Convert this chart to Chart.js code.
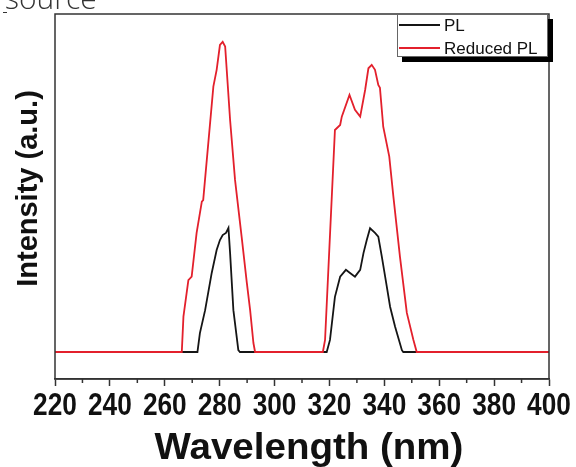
<!DOCTYPE html>
<html>
<head>
<meta charset="utf-8">
<script src="https://cdn.jsdelivr.net/npm/chart.js@4"></script>
<style>
  html, body { margin: 0; padding: 0; background: #fff; }
  #wrap { width: 576px; height: 467px; position: relative; }
</style>
</head>
<body>
<div id="wrap"><canvas id="chart" width="576" height="467"></canvas></div>
<script>
// data (wavelength in nm, intensity in arbitrary units)
const plWavelength = [220, 271.9, 272.8, 274.7, 277.1, 278.9, 280.1, 281.1, 282.3, 283.2, 283.8, 285.0, 286.8, 287.4,
  319.0, 320.2, 322.0, 323.9, 326.0, 327.5, 329.3, 331.2, 332.4, 333.6, 334.8, 336.6, 337.8, 339.1, 340.9, 342.1, 343.9, 346.4, 346.9, 400];
const plIntensity = [0, 0, 6.1, 13.5, 25.5, 32.9, 36.1, 37.7, 38.4, 40.0, 31.9, 13.5, 0.6, 0,
  0, 3.9, 17.8, 24.3, 26.5, 25.5, 24.3, 26.5, 31.9, 36.1, 39.9, 38.4, 37.2, 30.7, 21.1, 14.6, 8.2, 0.6, 0, 0];

const reducedWavelength = [220, 266.2, 266.8, 268.6, 269.8, 271.6, 273.5, 274.0, 277.7, 278.9, 280.1, 281.1, 282.0, 283.8, 285.6, 288.0, 289.9, 291.1, 292.3, 292.9,
  317.6, 318.4, 322.0, 323.9, 324.5, 327.3, 329.3, 331.2, 333.0, 334.2, 335.4, 336.6, 337.8, 338.4, 339.6, 341.8, 343.3, 345.7, 348.2, 350.6, 351.8, 400];
const reducedIntensity = [0, 0, 11.4, 23.2, 24.3, 38.4, 48.5, 49.0, 85.6, 91.0, 99.0, 100, 98.5, 74.8, 55.5, 37.2, 22.3, 13.5, 2.9, 0,
  0, 3.9, 71.6, 73.2, 75.9, 82.9, 78.1, 75.9, 84.5, 91.5, 92.6, 91.0, 86.1, 85.2, 72.7, 63.0, 50.1, 30.7, 12.6, 3.9, 0, 0];

const seriesNames = ["PL", "Reduced PL"];
const xTicks = [220, 240, 260, 280, 300, 320, 340, 360, 380, 400];
const xMinorTicks = [230, 250, 270, 290, 310, 330, 350, 370, 390];
const xTitle = "Wavelength (nm)";
const yTitle = "Intensity (a.u.)";

const toPoints = (xs, ys) => xs.map((x, i) => ({ x: x, y: ys[i] }));

const axisColor = "#333";
const black = "#151515";
const red = "#e3202c";
const boldFont = "'Liberation Sans', Arial, sans-serif";

// box, minor ticks, condensed tick labels, axis titles and legend
const decor = {
  id: "decor",
  afterDatasetsDraw(chart) {
    const ctx = chart.ctx;
    const a = chart.chartArea;
    const xs = chart.scales.x;
    ctx.save();
    ctx.strokeStyle = axisColor;
    ctx.lineWidth = 1.5;
    ctx.strokeRect(a.left, a.top, a.right - a.left, a.bottom - a.top);

    xMinorTicks.forEach((v) => {
      let px = xs.getPixelForValue(v);
      ctx.beginPath();
      ctx.moveTo(px, a.bottom);
      ctx.lineTo(px, a.bottom + 4);
      ctx.stroke();
    });

    // tick labels, narrow bold like the original
    ctx.fillStyle = "#111";
    ctx.textAlign = "center";
    ctx.textBaseline = "alphabetic";
    ctx.font = "bold 32px " + boldFont;
    xs.ticks.forEach((t) => {
      let px = xs.getPixelForValue(t.value);
      ctx.save();
      ctx.translate(px, 415);
      ctx.scale(0.82, 1);
      ctx.fillText(String(t.value), 0, 0);
      ctx.restore();
    });

    // legend box with shadow
    let lx = 397, ly = 14, lw = 151, lh = 43;
    ctx.fillStyle = "#000";
    ctx.fillRect(lx + 5, ly + 5, lw, lh);
    ctx.fillStyle = "#fff";
    ctx.fillRect(lx, ly, lw, lh);
    ctx.lineWidth = 1;
    ctx.strokeStyle = "#666";
    ctx.strokeRect(lx + 0.5, ly + 0.5, lw - 1, lh - 1);

    let rows = [{ c: black, y: 25 }, { c: red, y: 48 }];
    ctx.font = "17px " + boldFont;
    ctx.textAlign = "left";
    ctx.textBaseline = "middle";
    rows.forEach((r, i) => {
      ctx.strokeStyle = r.c;
      ctx.lineWidth = 1.8;
      ctx.beginPath();
      ctx.moveTo(399, r.y);
      ctx.lineTo(440, r.y);
      ctx.stroke();
      ctx.fillStyle = "#111";
      ctx.fillText(seriesNames[i], 444, r.y + 1);
    });

    // axis titles
    ctx.fillStyle = "#111";
    ctx.textAlign = "center";
    ctx.textBaseline = "alphabetic";
    ctx.save();
    ctx.translate(309, 459);
    ctx.scale(1.07, 1);
    ctx.font = "bold 36px " + boldFont;
    ctx.fillText(xTitle, 0, 0);
    ctx.restore();

    ctx.save();
    ctx.translate(37, 188.5);
    ctx.rotate(-Math.PI / 2);
    ctx.font = "bold 29px " + boldFont;
    ctx.fillText(yTitle, 0, 0);
    ctx.restore();

    // clipped caption at the very top
    ctx.textAlign = "left";
    ctx.font = "300 30px 'Open Sans', sans-serif";
    ctx.fillStyle = "#333";
    ctx.fillText("source", 5, 9);
    ctx.fillRect(3, 12, 4, 1);
    ctx.restore();
  },
};

const config = {
  type: "scatter",
  data: {
    datasets: [
      {
        label: seriesNames[0],
        data: toPoints(plWavelength, plIntensity),
        showLine: true,
        borderColor: black,
        borderWidth: 1.8,
        pointRadius: 0,
        order: 1,
      },
      {
        label: seriesNames[1],
        data: toPoints(reducedWavelength, reducedIntensity),
        showLine: true,
        borderColor: red,
        borderWidth: 1.8,
        pointRadius: 0,
        order: 0,
      },
    ],
  },
  options: {
    responsive: false,
    animation: false,
    layout: { padding: { left: 55, right: 27, top: 14, bottom: 0 } },
    scales: {
      x: {
        type: "linear",
        min: 220,
        max: 400,
        afterFit: (s) => { s.height = 88; },
        afterBuildTicks: (s) => { s.ticks = xTicks.map((v) => ({ value: v })); },
        ticks: { display: false, autoSkip: false, maxRotation: 0 },
        grid: {
          drawOnChartArea: false,
          tickLength: 7,
          tickColor: axisColor,
          tickWidth: 1.5,
        },
        border: { color: axisColor, width: 1.5 },
      },
      y: {
        display: false,
        min: -8.7,
        max: 109,
      },
    },
    plugins: {
      legend: { display: false },
      tooltip: { enabled: false },
    },
  },
  plugins: [decor],
};

new Chart(document.getElementById("chart"), config);
</script>
</body>
</html>
